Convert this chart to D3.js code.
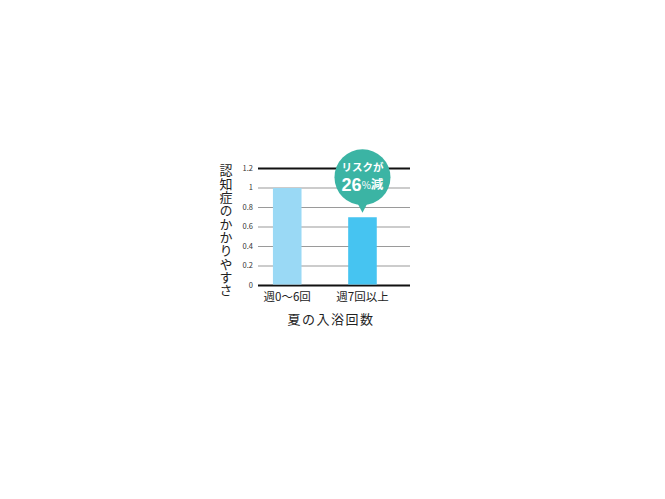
<!DOCTYPE html>
<html>
<head>
<meta charset="utf-8">
<script src="https://cdn.jsdelivr.net/npm/d3@7"></script>
<style>
  html, body { margin: 0; padding: 0; background: #fff; }
  svg text { font-family: "Noto Sans CJK JP", "Noto Sans", sans-serif; }
</style>
</head>
<body>
<svg id="chart" width="665" height="499"></svg>
<script>
const categories = ['週0〜6回', '週7回以上'];
const values     = [1.0, 0.70];
const ticks      = [0, 0.2, 0.4, 0.6, 0.8, 1, 1.2];
const colors     = ['#9ad9f5', '#46c4f1'];
const yTitle     = '認知症のかかりやすさ';
const xTitle     = '夏の入浴回数';
const badge      = ['リスクが', '26', '%', '減'];

const svg = d3.select('#chart');

const x = d3.scaleBand().domain(categories).range([258, 410]).paddingInner(0.62).paddingOuter(0.32).align(0.31);
const y = d3.scaleLinear().domain([0, 1.2]).range([285.5, 168.5]);

// grid
svg.append('g')
  .selectAll('line')
  .data(ticks)
  .join('line')
    .attr('x1', 258)
    .attr('x2', 410)
    .attr('y1', d => y(d))
    .attr('y2', d => y(d))
    .attr('stroke', d => (d === 0 || d === 1.2) ? '#111' : '#9a9a9a')
    .attr('stroke-width', d => (d === 0 || d === 1.2) ? 2 : 1.2)
;

// tick labels
svg.append('g')
  .selectAll('text')
  .data(ticks)
  .join('text')
    .text(d => d3.format('~g')(d))
    .attr('x', 253)
    .attr('y', d => y(d))
    .attr('font-size', 7.5)
    .attr('font-family', 'Liberation Sans, sans-serif')
    .attr('fill', '#333')
    .attr('text-anchor', 'end')
    .attr('dominant-baseline', 'middle')
;

// bars
svg.append('g')
  .selectAll('rect')
  .data(values)
  .join('rect')
    .attr('x', (d, i) => x(categories[i]))
    .attr('y', d => y(d))
    .attr('width', x.bandwidth())
    .attr('height', d => y(0) - y(d) - 1)
    .attr('fill', (d, i) => colors[i])
;

// category labels
svg.append('g')
  .selectAll('text')
  .data(categories)
  .join('text')
    .text(d => d)
    .attr('x', d => x(d) + x.bandwidth() / 2)
    .attr('y', 298)
    .attr('font-size', 11.5)
    .attr('fill', '#222')
    .attr('text-anchor', 'middle')
    .attr('dominant-baseline', 'middle')
;

// x title
svg.append('text')
  .text(xTitle)
  .attr('x', 331)
  .attr('y', 320)
  .attr('font-size', 13)
  .attr('fill', '#222')
  .attr('letter-spacing', 1.5)
  .attr('text-anchor', 'middle')
  .attr('dominant-baseline', 'middle')
;

// y title, vertical
svg.append('text')
  .text(yTitle)
  .attr('x', 226)
  .attr('y', 164)
  .attr('font-size', 13)
  .attr('fill', '#222')
  .attr('letter-spacing', 0.3)
  .style('writing-mode', 'vertical-rl')
  .style('text-orientation', 'upright')
;

// badge
const badgeX = x(categories[1]) + x.bandwidth() / 2;
const badgeY = y(values[1]) - 40;
const b = svg.append('g').attr('transform', `translate(${ badgeX }, ${ badgeY })`);

b.append('circle')
  .attr('r', 28)
  .attr('fill', '#3bb4a4')
;
b.append('path')
  .attr('d', 'M -6 24 L 6 24 L 0 35.5 Z')
  .attr('fill', '#3bb4a4')
;
b.append('text')
  .text(badge[0])
  .attr('x', 0)
  .attr('y', -9.5)
  .attr('font-size', 10.5)
  .attr('font-weight', 'bold')
  .attr('fill', '#fff')
  .attr('text-anchor', 'middle')
  .attr('dominant-baseline', 'middle')
;
const t = b.append('text')
  .attr('x', 0)
  .attr('y', 8.5)
  .attr('fill', '#fff')
  .attr('font-weight', 'bold')
  .attr('text-anchor', 'middle')
  .attr('dominant-baseline', 'middle')
;
t.append('tspan').text(badge[1]).attr('font-size', 18).attr('font-family', 'Liberation Sans, sans-serif');
t.append('tspan').text(badge[2]).attr('font-size', 10).attr('font-weight', 'normal');
t.append('tspan').text(badge[3]).attr('font-size', 12.5);
</script>
</body>
</html>
